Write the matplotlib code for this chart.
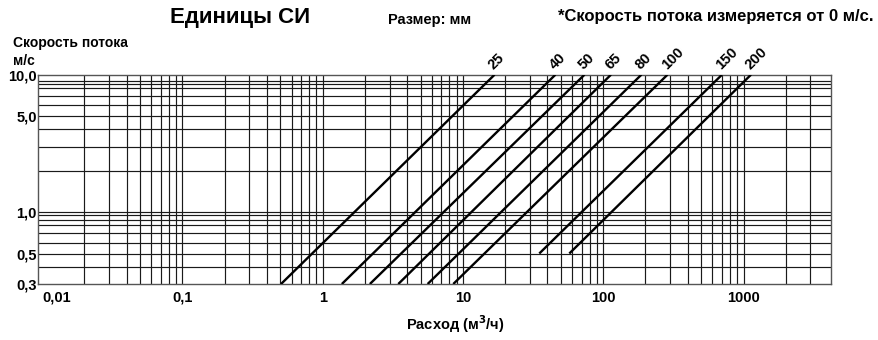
import matplotlib
matplotlib.use('Agg')
import matplotlib.pyplot as plt
from matplotlib.ticker import FixedLocator, NullLocator
import matplotlib.transforms as mtransforms

plt.rcParams['font.family'] = ['Liberation Sans', 'DejaVu Sans']
plt.rcParams['font.weight'] = 'bold'

# Pipe sizes (mm) and the end points of each velocity/flow line
sizes = ['25', '40', '50', '65', '80', '100', '150', '200']
q_start = [0.505, 1.37, 2.17, 3.46, 5.6, 8.53, 35.0, 57.3]
v_start = [0.3, 0.3, 0.3, 0.3, 0.3, 0.3, 0.5, 0.5]
q_end = [16.8, 45.6, 73.5, 113.5, 187.0, 287.0, 702.0, 1130.0]
v_end = [10.0, 10.0, 10.0, 10.0, 10.0, 10.0, 10.0, 10.0]

# Grid lines
x_grid = [0.02, 0.03, 0.04, 0.05, 0.06, 0.07, 0.08, 0.09, 0.1,
          0.2, 0.3, 0.4, 0.5, 0.6, 0.7, 0.8, 0.9, 1,
          2, 3, 4, 5, 6, 7, 8, 9, 10,
          20, 30, 40, 50, 60, 70, 80, 90, 100,
          200, 300, 400, 500, 600, 700, 800, 900, 1000,
          2000, 3000]
y_grid = [9, 8.5, 8, 7, 6, 5, 4, 3, 2, 1, 0.95, 0.87, 0.8, 0.7, 0.6, 0.5, 0.4]

x_ticks = [0.01, 0.1, 1, 10, 100, 1000]
x_labels = ['0,01', '0,1', '1', '10', '100', '1000']
y_ticks = [0.3, 0.5, 1, 5, 10]
y_labels = ['0,3', '0,5', '1,0', '5,0', '10,0']

W, H = 879, 340
fig = plt.figure(figsize=(W / 100, H / 100), dpi=100)
ax = fig.add_axes([38.3 / W, 1 - 284 / H, (831 - 38.3) / W, (284 - 74.7) / H])
ax.set_xscale('log')
ax.set_yscale('log')
ax.set_xlim(0.0094, 4200)
ax.set_ylim(0.3, 10)

for x in x_grid:
    ax.axvline(x, color='#1a1a1a', lw=0.85, zorder=1)
for y in y_grid:
    ax.axhline(y, color='#1a1a1a', lw=0.85, zorder=1)

for s, q0, v0, q1, v1 in zip(sizes, q_start, v_start, q_end, v_end):
    ax.plot([q0, q1], [v0, v1], color='black', lw=1.7, zorder=3,
            solid_capstyle='butt')
    off = mtransforms.offset_copy(ax.transData, fig=fig, x=1, y=2, units='points')
    ax.text(q1, v1, s, rotation=45, rotation_mode='anchor', ha='left',
            va='bottom', fontsize=10.5, fontweight='bold', transform=off,
            clip_on=False)

ax.xaxis.set_major_locator(FixedLocator(x_ticks))
ax.xaxis.set_minor_locator(NullLocator())
ax.set_xticklabels(x_labels)
ax.yaxis.set_major_locator(FixedLocator(y_ticks))
ax.yaxis.set_minor_locator(NullLocator())
ax.set_yticklabels(y_labels)
ax.tick_params(axis='both', length=0, labelsize=10.5)
ax.tick_params(axis='x', pad=5)
ax.tick_params(axis='y', pad=1)
for lab in ax.get_xticklabels() + ax.get_yticklabels():
    lab.set_fontweight('bold')
ax.get_xticklabels()[0].set_horizontalalignment('left')

for sp in ax.spines.values():
    sp.set_color('#555555')
    sp.set_linewidth(1.0)

def ftext(px, py, s, **kw):
    fig.text(px / W, 1 - py / H, s, fontweight='bold', **kw)

ftext(240, 18, 'Единицы СИ', fontsize=16, ha='center', va='center')
ftext(388, 20, 'Размер: мм', fontsize=10.5, ha='left', va='center')
ftext(558, 16, '*Скорость потока измеряется от 0 м/с.', fontsize=12,
      ha='left', va='center')
ftext(13, 43, 'Скорость потока', fontsize=10, ha='left', va='center')
ftext(13, 61, 'м/с', fontsize=10, ha='left', va='center')
ftext(455, 324, 'Расход (м$^3$/ч)', fontsize=10.5, ha='center', va='center')

fig.savefig('out.png', dpi=100)
